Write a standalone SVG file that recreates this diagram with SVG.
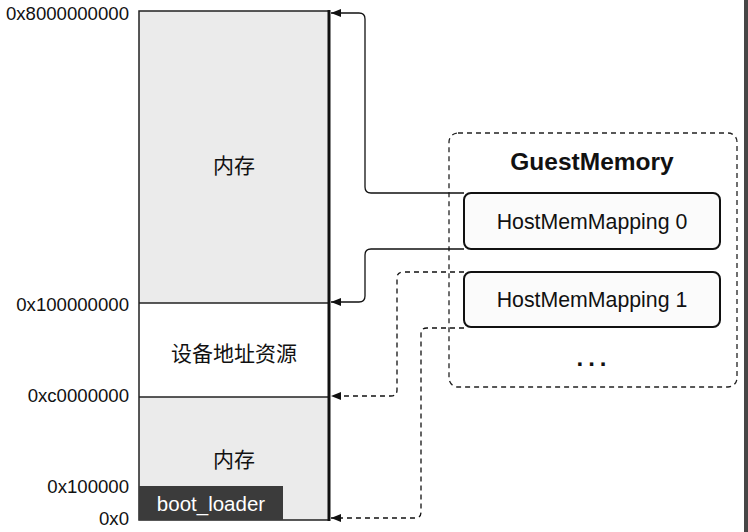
<svg xmlns="http://www.w3.org/2000/svg" width="748" height="532" viewBox="0 0 748 532">
<style>
.lbl{font-family:"Liberation Sans",Arial,sans-serif;font-size:18.6px;fill:#111;text-anchor:end}
.cn{font-family:"Noto Sans CJK SC","Liberation Sans",sans-serif;font-size:21px;fill:#111;text-anchor:middle}
.node{font-family:"Liberation Sans",Arial,sans-serif;font-size:21.3px;fill:#111;text-anchor:middle}
.map{fill:#fbfbfb;stroke:#111;stroke-width:2}
.conn{fill:none;stroke:#111;stroke-width:1.3}
.dash{stroke-dasharray:5 4}
</style>
<defs>
<marker id="arr" viewBox="0 0 10 10" refX="10" refY="5" markerWidth="10" markerHeight="10" markerUnits="userSpaceOnUse" orient="auto">
<path d="M0,1 L10,5 L0,9 Z" fill="#111"/>
</marker>
</defs>
<rect x="0" y="0" width="748" height="532" fill="#fff"/>
<rect x="744" y="0" width="4" height="532" fill="#464646"/>

<g id="memory-map">
<rect x="139" y="11" width="190" height="292" fill="#ebebeb"/>
<rect x="139" y="303" width="190" height="94" fill="#fff"/>
<rect x="139" y="397" width="190" height="123" fill="#ebebeb"/>
<g fill="none" stroke="#222" stroke-width="1.5">
<path d="M329,11 H139 V520 H329"/>
<line x1="139" y1="303" x2="329" y2="303"/>
<line x1="139" y1="397" x2="329" y2="397"/>
</g>
<line x1="329" y1="10" x2="329" y2="521" stroke="#111" stroke-width="3"/>
<text class="cn" x="234" y="173">内存</text>
<text class="cn" x="234" y="361">设备地址资源</text>
<text class="cn" x="234" y="467">内存</text>
</g>

<g id="boot-loader">
<rect x="139" y="486" width="144" height="34" fill="#3b3b3b"/>
<text x="211" y="511" font-family="'Liberation Sans',Arial,sans-serif" font-size="20.5" fill="#fff" text-anchor="middle">boot_loader</text>
</g>

<g id="address-labels">
<text class="lbl" x="129" y="20">0x8000000000</text>
<text class="lbl" x="129" y="311">0x100000000</text>
<text class="lbl" x="129" y="402">0xc0000000</text>
<text class="lbl" x="129" y="493">0x100000</text>
<text class="lbl" x="129" y="525">0x0</text>
</g>

<g id="guest-memory">
<rect x="449" y="133" width="288" height="254" rx="9" fill="none" stroke="#222" stroke-width="1.3" stroke-dasharray="5 4"/>
<text x="592" y="170" font-family="'Liberation Sans',Arial,sans-serif" font-size="24.5" font-weight="bold" fill="#111" text-anchor="middle">GuestMemory</text>
<text x="594" y="366" font-family="'Liberation Sans',Arial,sans-serif" font-size="24" font-weight="bold" fill="#111" text-anchor="middle" letter-spacing="5">...</text>
</g>

<g id="host-mem-mapping-0">
<rect class="map" x="464" y="193" width="256" height="56" rx="7"/>
<text class="node" x="592" y="229">HostMemMapping 0</text>
</g>

<g id="host-mem-mapping-1">
<rect class="map" x="464" y="272" width="256" height="55" rx="7"/>
<text class="node" x="592" y="307">HostMemMapping 1</text>
</g>

<g id="connectors">
<path class="conn" d="M464,193 H371 Q365,193 365,187 V19 Q365,13 359,13 H331" marker-end="url(#arr)"/>
<path class="conn" d="M464,249 H371 Q365,249 365,255 V296 Q365,302 359,302 H331" marker-end="url(#arr)"/>
<path class="conn dash" d="M464,272 H403 Q397,272 397,278 V390 Q397,396 391,396 H331" marker-end="url(#arr)"/>
<path class="conn dash" d="M464,328 H427 Q421,328 421,334 V512 Q421,518 415,518 H331" marker-end="url(#arr)"/>
</g>
</svg>
